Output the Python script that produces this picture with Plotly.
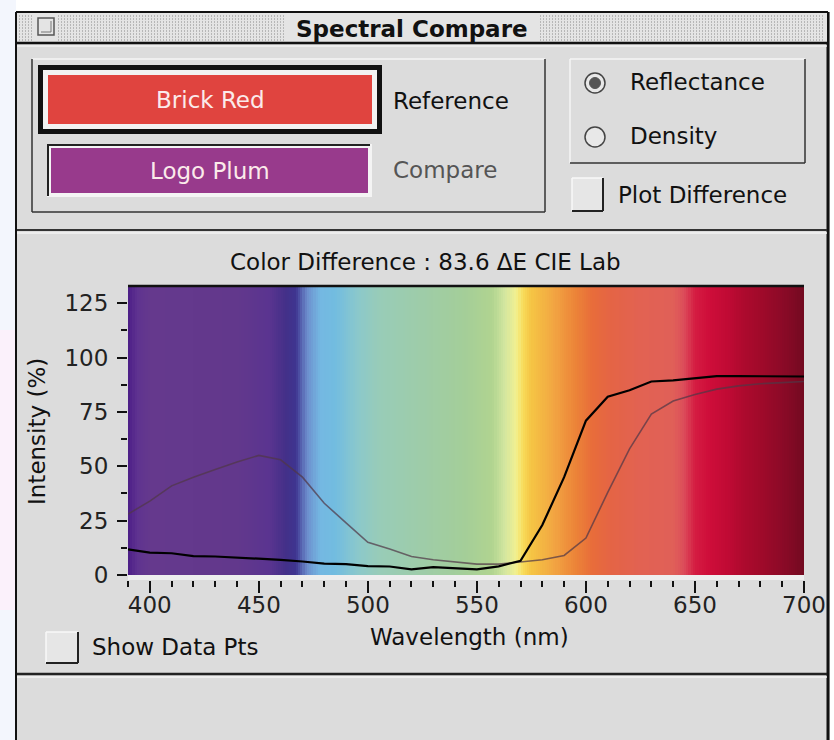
import plotly.graph_objects as go

# ---------------- data ----------------
wavelengths = [390, 400, 410, 420, 430, 440, 450, 460, 470, 480, 490, 500, 510, 520, 530, 540,
               550, 560, 570, 580, 590, 600, 610, 620, 630, 640, 650, 660, 670, 680, 690, 700]
brick_red = [11.8, 10.3, 10.0, 8.7, 8.5, 8.0, 7.6, 7.0, 6.2, 5.2, 5.0, 4.1, 3.9, 2.6, 3.6, 3.2,
             2.6, 4.0, 6.5, 23.0, 45.0, 71.0, 82.0, 85.0, 89.0, 89.5, 90.5, 91.5, 91.5, 91.5, 91.3, 91.3]
logo_plum = [28.0, 34.0, 41.0, 45.0, 48.5, 52.0, 55.0, 53.0, 45.0, 33.0, 24.0, 15.0, 12.0, 8.5, 7.0, 6.0,
             5.0, 5.0, 6.0, 7.0, 9.0, 17.0, 38.0, 58.0, 74.0, 80.0, 83.0, 85.5, 87.0, 88.0, 88.5, 89.0]
x_tick_vals = [400, 450, 500, 550, 600, 650, 700]
y_tick_vals = [0, 25, 50, 75, 100, 125]
delta_e = 83.6
reference_name = "Brick Red"
compare_name = "Logo Plum"

# ---------------- style: spectrum backdrop ----------------
spec_wl = [390, 394, 400, 440, 455, 462, 467, 472, 478, 485, 495, 505, 525, 545, 557, 563, 568,
           571, 575, 585, 595, 603, 612, 625, 640, 645, 650, 656, 665, 672, 680, 688, 695, 700]
spec_col = ["#4a1c86", "#5e3290", "#65398d", "#62388c", "#5a3490", "#443088", "#3e3490", "#6c8ccc",
            "#74b8e2", "#72bce0", "#8ac8cc", "#98ccb8", "#9ecca8", "#a4ce98", "#b0d490", "#d4e6a0",
            "#f2f090", "#f8dc5a", "#f5c444", "#f2a642", "#ec8438", "#e86c3a", "#e46446", "#e26252",
            "#e06058", "#dc4c5a", "#d41c42", "#cf0e3a", "#c00a34", "#ae0a2e", "#a00a2a", "#900a28",
            "#800a24", "#720a20"]
WL0, WL1 = 390, 700
YTOP = 133.4
colorscale = [[(w - WL0) / (WL1 - WL0), c] for w, c in zip(spec_wl, spec_col)]
edges = list(range(WL0, WL1 + 1))
centers = [e + 0.5 for e in edges[:-1]]

W, H = 834, 740
L, R, T, B = 128, 30, 285, 160
PW, PH = W - L - R, H - T - B


def px(x):
    return (x - L) / PW


def py(y):
    return (H - B - y) / PH


FONT = "DejaVu Sans"
GRAY = "#dcdcdc"
DARK = "#2a2a2a"

fig = go.Figure()
fig.add_trace(go.Heatmap(x=edges, y=[0, YTOP], z=[centers], colorscale=colorscale,
                         zmin=WL0, zmax=WL1, showscale=False, hoverinfo="skip"))
fig.add_trace(go.Scatter(x=wavelengths, y=logo_plum, mode="lines", name=compare_name,
                         line=dict(color="rgba(80,55,70,0.72)", width=1.6)))
fig.add_trace(go.Scatter(x=wavelengths, y=brick_red, mode="lines", name=reference_name,
                         line=dict(color="#000000", width=2.2)))

shapes = []


def rect(x0, y0, x1, y1, fill=None, line=None, lw=0, layer="above"):
    shapes.append(dict(type="rect", xref="paper", yref="paper", x0=px(x0), x1=px(x1),
                       y0=py(y1), y1=py(y0), fillcolor=fill or "rgba(0,0,0,0)",
                       line=dict(color=line or "rgba(0,0,0,0)", width=lw), layer=layer))


def seg(x0, y0, x1, y1, color=DARK, w=1.5, dash="solid"):
    shapes.append(dict(type="line", xref="paper", yref="paper", x0=px(x0), x1=px(x1),
                       y0=py(y0), y1=py(y1), line=dict(color=color, width=w, dash=dash)))


def circ(cx, cy, r, fill, line, lw=1.5):
    shapes.append(dict(type="circle", xref="paper", yref="paper", x0=px(cx - r), x1=px(cx + r),
                       y0=py(cy + r), y1=py(cy - r), fillcolor=fill, line=dict(color=line, width=lw)))


# outside the window
rect(0, 0, W, 12, fill="#ffffff")
rect(0, 0, 16, H, fill="#f3f6fd")
rect(0, 330, 16, 610, fill="#fbf1fb")
rect(830, 0, W, H, fill="#ffffff")
# window frame
seg(16, 12, 16, H, "#111", 2)
seg(828, 12, 828, H, "#111", 3)
seg(16, 12, 828, 12, "#111", 2)
# title bar
rect(17, 13, 827, 42, fill="#e4e4e4")
for yy in range(16, 41, 3):
    seg(19, yy, 34, yy, "#8a8a8a", 1, "1px,2px")
    seg(58, yy, 284, yy, "#8a8a8a", 1, "1px,2px")
    seg(540, yy, 825, yy, "#8a8a8a", 1, "1px,2px")
rect(38, 18, 54, 35, fill="#e4e4e4", line="#555", lw=1.5)
seg(41, 32, 51, 32, "#777", 1)
seg(51, 21, 51, 32, "#777", 1)
seg(16, 43, 828, 43, "#111", 2.5)
seg(17, 46, 827, 46, "#f2f2f2", 1.5)
# top separator
seg(17, 230, 827, 230, "#333", 2)
seg(17, 233, 827, 233, "#f4f4f4", 1.5)
# bottom separator
seg(17, 674, 827, 674, "#222", 2.5)
seg(17, 677, 827, 677, "#f4f4f4", 1.5)
# group box 1
seg(32, 59, 545, 59, "#f6f6f6", 1.5)
seg(32, 59, 32, 212, "#333", 1.5)
seg(32, 212, 545, 212, "#333", 1.5)
seg(545, 59, 545, 212, "#333", 1.5)
# reference swatch (selected)
rect(38, 65, 382, 134, fill="#111111")
rect(43, 70, 377, 129, fill="#f2f2f2")
rect(48, 75, 372, 124, fill="#e0443f")
# compare swatch
rect(47, 144, 372, 197, fill="#f4f4f4")
seg(47, 145, 370, 145, "#222", 2)
seg(48, 144, 48, 196, "#222", 2)
rect(51, 148, 368, 193, fill="#983a8c")
# radio group box
seg(570, 59, 805, 59, "#f6f6f6", 1.5)
seg(570, 59, 570, 163, "#f6f6f6", 1.5)
seg(570, 163, 805, 163, "#333", 1.5)
seg(805, 59, 805, 163, "#333", 1.5)
circ(595, 83, 10, "#e8e8e8", "#444", 1.5)
circ(595, 83, 5.5, "#555555", "#555555", 1)
circ(595, 137, 10, "#e8e8e8", "#444", 1.5)
# checkboxes
for (x0, y0, x1, y1) in [(572, 178, 603, 211), (46, 632, 78, 663)]:
    rect(x0, y0, x1, y1, fill="#e6e6e6")
    seg(x0, y0, x1, y0, "#f8f8f8", 1.5)
    seg(x0, y0, x0, y1, "#f8f8f8", 1.5)
    seg(x1, y0, x1, y1, "#222", 2)
    seg(x0, y1, x1, y1, "#222", 2)
# plot top border
seg(128, 286, 804, 286, "#111", 2.5)

annotations = []


def text(s, x, y, size=23, color="#111", xanchor="left", bold=False, angle=0):
    annotations.append(dict(text=s, x=px(x), y=py(y), xref="paper", yref="paper",
                            xanchor=xanchor, yanchor="middle", showarrow=False, textangle=angle,
                            font=dict(family=FONT, size=size, color=color,
                                      weight="bold" if bold else "normal")))


text("Spectral Compare", 412, 29, size=23, xanchor="center", bold=True)
text(reference_name, 210, 100, color="#fbeaea", xanchor="center")
text(compare_name, 210, 171, color="#fbeaea", xanchor="center")
text("Reference", 391, 101)
text("Compare", 391, 170, color="#555555")
text("Reflectance", 628, 82)
text("Density", 628, 136)
text("Plot Difference", 616, 195)
text(f"Color Difference : {delta_e} ΔE CIE Lab", 425, 262, xanchor="center")
text("Show Data Pts", 90, 647)
text("Wavelength (nm)", 469, 637, xanchor="center")
text("Intensity (%)", 37, 432, xanchor="center", angle=-90)

fig.update_layout(
    width=W, height=H, autosize=False,
    margin=dict(l=L, r=R, t=T, b=B, pad=0, autoexpand=False),
    paper_bgcolor=GRAY, plot_bgcolor="#eeeeee",
    showlegend=False,
    shapes=shapes, annotations=annotations,
    font=dict(family=FONT, size=23, color="#111"),
)
fig.update_xaxes(range=[WL0, WL1], tickvals=x_tick_vals, ticks="outside", ticklen=12, tickwidth=2,
                 tickcolor="#111", showgrid=False, zeroline=False, showline=False, automargin=False,
                 tickfont=dict(family=FONT, size=23, color="#222"), ticklabelstandoff=-8,
                 minor=dict(ticks="outside", tick0=390, dtick=10, ticklen=6, tickwidth=2,
                            tickcolor="#111", showgrid=False))
fig.update_yaxes(range=[-2.3, YTOP], tickvals=y_tick_vals, ticks="outside", ticklen=10, tickwidth=2,
                 tickcolor="#111", showgrid=False, zeroline=False, showline=False, automargin=False,
                 tickfont=dict(family=FONT, size=23, color="#222"), ticklabelstandoff=4,
                 minor=dict(ticks="outside", tick0=0, dtick=12.5, ticklen=6, tickwidth=2,
                            tickcolor="#111", showgrid=False))

fig.write_html("out.html", config={"displayModeBar": False},
               post_script="document.body.style.margin='0px';")
